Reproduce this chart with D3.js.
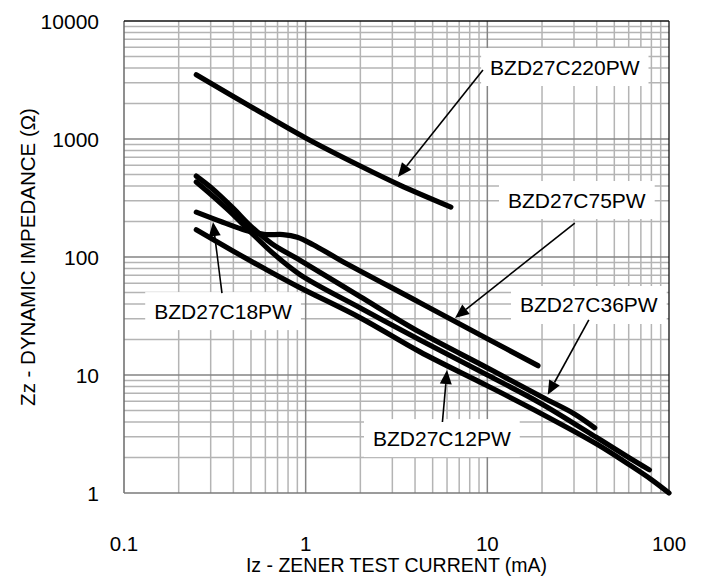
<!DOCTYPE html>
<html>
<head>
<meta charset="utf-8">
<script src="https://cdn.jsdelivr.net/npm/d3@7"></script>
<style>
  html, body { margin: 0; padding: 0; background: #fff; }
  svg { display: block; font-family: "Liberation Sans", Arial, sans-serif; }
</style>
</head>
<body>
<svg id="chart" width="705" height="577"></svg>
<script>
// ---- data (Iz in mA, Zz in ohm) ----
const xTicks = [0.1, 1, 10, 100];
const xTickLabels = ["0.1", "1", "10", "100"];
const yTicks = [1, 10, 100, 1000, 10000];
const yTickLabels = ["1", "10", "100", "1000", "10000"];

const iz220 = [0.25, 0.5, 1, 2, 3.3, 6.3];
const zz220 = [3500, 1880, 1020, 590, 407, 265];

const iz75 = [0.25, 0.35, 0.47, 0.6, 0.75, 0.9, 1.1, 1.55, 4.26, 10, 19];
const zz75 = [240, 197, 168, 155, 155, 147, 127, 94, 41, 20.3, 12];

const iz36 = [0.25, 0.3, 0.4, 0.5, 0.65, 0.93, 2, 4.26, 10, 20, 30, 39];
const zz36 = [485, 390, 258, 182, 130, 94, 46, 23, 11.5, 6.5, 4.7, 3.57];

const iz18 = [0.25, 0.3, 0.4, 0.5, 0.65, 0.93, 2, 4.26, 10, 19.5, 40, 60, 78];
const zz18 = [432, 340, 228, 162, 110, 71, 37, 19.8, 10, 5.8, 2.95, 2.0, 1.57];

const iz12 = [0.25, 0.4, 0.6, 0.93, 2, 4.26, 10, 19.5, 40, 60, 80, 100];
const zz12 = [170, 112, 79, 55, 30.5, 15.7, 8.1, 4.77, 2.6, 1.75, 1.3, 1.0];

const seriesNames = ["BZD27C220PW", "BZD27C75PW", "BZD27C36PW", "BZD27C18PW", "BZD27C12PW"];
const seriesIz = [iz220, iz75, iz36, iz18, iz12];
const seriesZz = [zz220, zz75, zz36, zz18, zz12];

// annotations in data units: label centre, arrow start, arrow tip
const labelIz   = [26.7, 31.1, 36.2, 0.351, 5.62];
const labelZz   = [4074, 304, 39.2, 34.8, 2.92];
const arrowFromIz = [9.46, 30.3, 36.2, 0.346, 5.66];
const arrowFromZz = [3846, 194, 29.3, 49.5, 4.0];
const arrowToIz = [3.22, 6.64, 21.5, 0.309, 6.0];
const arrowToZz = [477, 30.4, 6.8, 198, 11.0];

const xTitle = "Iz - ZENER TEST CURRENT (mA)";
const yTitle = "Zz - DYNAMIC IMPEDANCE (\u03A9)";

// ---- layout ----
const L = 124, R = 669, T = 21, B = 493;
const svg = d3.select("#chart");
const x = d3.scaleLog().domain([0.1, 100]).range([L, R]);
const y = d3.scaleLog().domain([1, 10000]).range([B, T]);

// minor grid
const minorX = [], minorY = [];
for (let d = 0.1; d < 100; d *= 10) for (let k = 2; k <= 9; k++) minorX.push(d * k);
for (let d = 1; d < 10000; d *= 10) for (let k = 2; k <= 9; k++) minorY.push(d * k);

const grid = svg.append("g");
grid.selectAll("line.mx").data(minorX).join("line")
  .attr("x1", d => x(d)).attr("x2", d => x(d)).attr("y1", T).attr("y2", B)
  .attr("stroke", "#b4b4b4").attr("stroke-width", 1.5);
grid.selectAll("line.my").data(minorY).join("line")
  .attr("y1", d => y(d)).attr("y2", d => y(d)).attr("x1", L).attr("x2", R)
  .attr("stroke", "#b4b4b4").attr("stroke-width", 1.5);
grid.selectAll("line.Mx").data(xTicks.slice(1, -1)).join("line")
  .attr("x1", d => x(d)).attr("x2", d => x(d)).attr("y1", T).attr("y2", B)
  .attr("stroke", "#848484").attr("stroke-width", 1.5);
grid.selectAll("line.My").data(yTicks.slice(1, -1)).join("line")
  .attr("y1", d => y(d)).attr("y2", d => y(d)).attr("x1", L).attr("x2", R)
  .attr("stroke", "#848484").attr("stroke-width", 1.5);

// frame
svg.append("line").attr("x1", L).attr("x2", L).attr("y1", T).attr("y2", B).attr("stroke", "#6a6a6a").attr("stroke-width", 1.5);
svg.append("line").attr("x1", L).attr("x2", R).attr("y1", B).attr("y2", B).attr("stroke", "#7a7a7a").attr("stroke-width", 1.5);
svg.append("line").attr("x1", L).attr("x2", R).attr("y1", T).attr("y2", T).attr("stroke", "#111").attr("stroke-width", 1.3);
svg.append("line").attr("x1", R).attr("x2", R).attr("y1", T).attr("y2", B).attr("stroke", "#111").attr("stroke-width", 1.3);

// label boxes (white, hide grid)
const fontSize = 21;
const labels = svg.append("g");
seriesNames.forEach((name, i) => {
  const cx = x(labelIz[i]), cy = y(labelZz[i]);
  const t = labels.append("text").attr("x", cx).attr("y", cy)
    .attr("text-anchor", "middle").attr("dominant-baseline", "central")
    .attr("font-size", fontSize).attr("fill", "#000").text(name);
  const w = t.node().getComputedTextLength();
  labels.insert("rect", "text").attr("x", cx - w / 2 - 9).attr("y", cy - 19)
    .attr("width", w + 18).attr("height", 38).attr("fill", "#fff");
});

// curves (smooth in log space = pixel space)
const line = d3.line().x(d => x(d[0])).y(d => y(d[1])).curve(d3.curveCatmullRom.alpha(0.5));
seriesIz.forEach((iz, i) => {
  const pts = iz.map((v, j) => [v, seriesZz[i][j]]);
  svg.append("path").attr("d", line(pts)).attr("fill", "none")
    .attr("stroke", "#000").attr("stroke-width", 5.2)
    .attr("stroke-linecap", "round").attr("stroke-linejoin", "round");
});

// arrows
const arrows = svg.append("g");
seriesNames.forEach((name, i) => {
  const x0 = x(arrowFromIz[i]), y0 = y(arrowFromZz[i]);
  const x1 = x(arrowToIz[i]), y1 = y(arrowToZz[i]);
  const ang = Math.atan2(y1 - y0, x1 - x0);
  const hl = 14, hw = 6;
  const bx = x1 - hl * Math.cos(ang), by = y1 - hl * Math.sin(ang);
  arrows.append("line").attr("x1", x0).attr("y1", y0).attr("x2", bx).attr("y2", by)
    .attr("stroke", "#000").attr("stroke-width", 1.6);
  const px = -Math.sin(ang), py = Math.cos(ang);
  arrows.append("path")
    .attr("d", `M${x1},${y1}L${bx + hw * px},${by + hw * py}L${bx - hw * px},${by - hw * py}Z`)
    .attr("fill", "#000");
});

// tick labels
svg.selectAll("text.xt").data(xTicks).join("text")
  .attr("x", d => x(d)).attr("y", 551).attr("text-anchor", "middle")
  .attr("font-size", 20.5)
  .text((d, i) => xTickLabels[i]);
svg.selectAll("text.yt").data(yTicks).join("text")
  .attr("x", 99).attr("y", d => y(d)).attr("text-anchor", "end")
  .attr("dominant-baseline", "central").attr("font-size", 21)
  .text((d, i) => yTickLabels[i]);

// axis titles
svg.append("text").attr("x", (L + R) / 2).attr("y", 572).attr("text-anchor", "middle")
  .attr("font-size", 19.5).text(xTitle);
svg.append("text").attr("transform", `translate(27,${(T + B) / 2}) rotate(-90)`)
  .attr("text-anchor", "middle").attr("dominant-baseline", "central")
  .attr("font-size", 20.5).text(yTitle);
</script>
</body>
</html>
